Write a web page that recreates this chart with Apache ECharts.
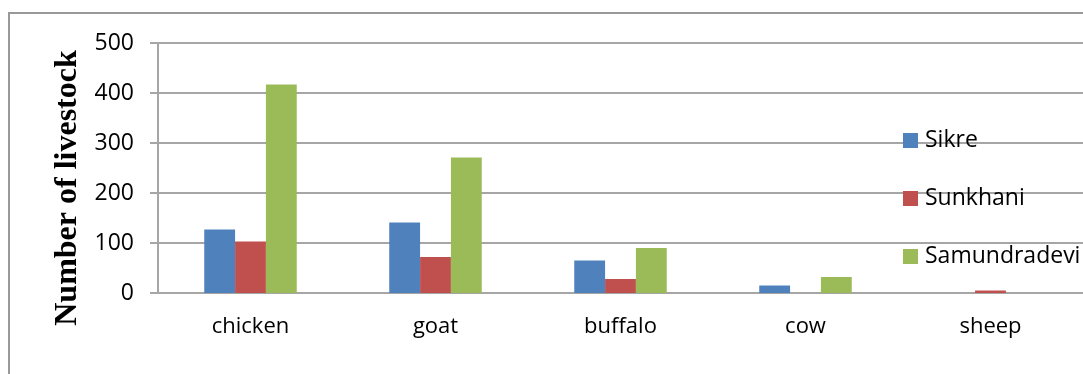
<!DOCTYPE html>
<html>
<head>
<meta charset="utf-8">
<script src="https://cdn.jsdelivr.net/npm/echarts@6/dist/echarts.min.js"></script>
<style>
  html, body { margin: 0; padding: 0; background: #fff; }
  #chart { width: 1083px; height: 374px; }
</style>
</head>
<body>
<div id="chart"></div>
<script>
// data
const categories = ['chicken', 'goat', 'buffalo', 'cow', 'sheep'];
const seriesNames = ['Sikre', 'Sunkhani', 'Samundradevi'];
const sikre = [127, 141, 65, 15, 0];
const sunkhani = [103, 72, 28, 0, 5];
const samundradevi = [417, 271, 90, 32, 0];
const yTicks = [0, 100, 200, 300, 400, 500];

const colors = ['#4F81BD', '#C0504D', '#9BBB59'];
const gridColor = '#a6a6a6';
const font = '"Open Sans", "Noto Sans", sans-serif';

const chart = echarts.init(document.getElementById('chart'));

const seriesData = [sikre, sunkhani, samundradevi];

const option = {
  animation: false,
  color: colors,
  grid: {
    left: 158,
    right: 0,
    top: 43,
    bottom: 81,
  },
  legend: {
    orient: 'vertical',
    left: 898,
    top: 124,
    itemWidth: 15,
    itemHeight: 15,
    itemGap: 35,
    icon: 'rect',
    data: seriesNames,
    textStyle: {
      fontFamily: font,
      fontSize: 23,
      color: '#000',
      padding: [0, 0, 0, 2],
    },
  },
  xAxis: {
    type: 'category',
    data: categories,
    axisLine: { show: true, lineStyle: { color: gridColor, width: 2 } },
    axisTick: { show: false },
    axisLabel: {
      fontFamily: font,
      fontSize: 22,
      color: '#000',
      margin: 23,
    },
  },
  yAxis: {
    type: 'value',
    min: yTicks[0],
    max: yTicks[yTicks.length - 1],
    interval: 100,
    axisLine: { show: true, lineStyle: { color: gridColor, width: 2 } },
    axisTick: { show: true, length: 8, lineStyle: { color: gridColor, width: 2 } },
    axisLabel: {
      fontFamily: font,
      fontSize: 23,
      color: '#000',
      margin: 24,
    },
    splitLine: { lineStyle: { color: gridColor, width: 2 } },
  },
  graphic: [
    {
      // outer frame of the chart
      type: 'rect',
      shape: { x: 9, y: 13, width: 1200, height: 500 },
      style: { fill: 'none', stroke: '#999', lineWidth: 2 },
      silent: true,
    },
    {
      type: 'text',
      x: 68,
      y: 188,
      rotation: Math.PI / 2,
      style: {
        text: 'Number of livestock',
        fontFamily: '"Liberation Serif", "Times New Roman", serif',
        fontWeight: 'bold',
        fontSize: 32,
        fill: '#000',
        align: 'center',
        verticalAlign: 'middle',
      },
    },
  ],
  series: seriesNames.map((name, i) => ({
    name,
    type: 'bar',
    data: seriesData[i],
    barGap: '0%',
    barCategoryGap: '50%',
    itemStyle: { color: colors[i] },
  })),
};

chart.setOption(option);
</script>
</body>
</html>
